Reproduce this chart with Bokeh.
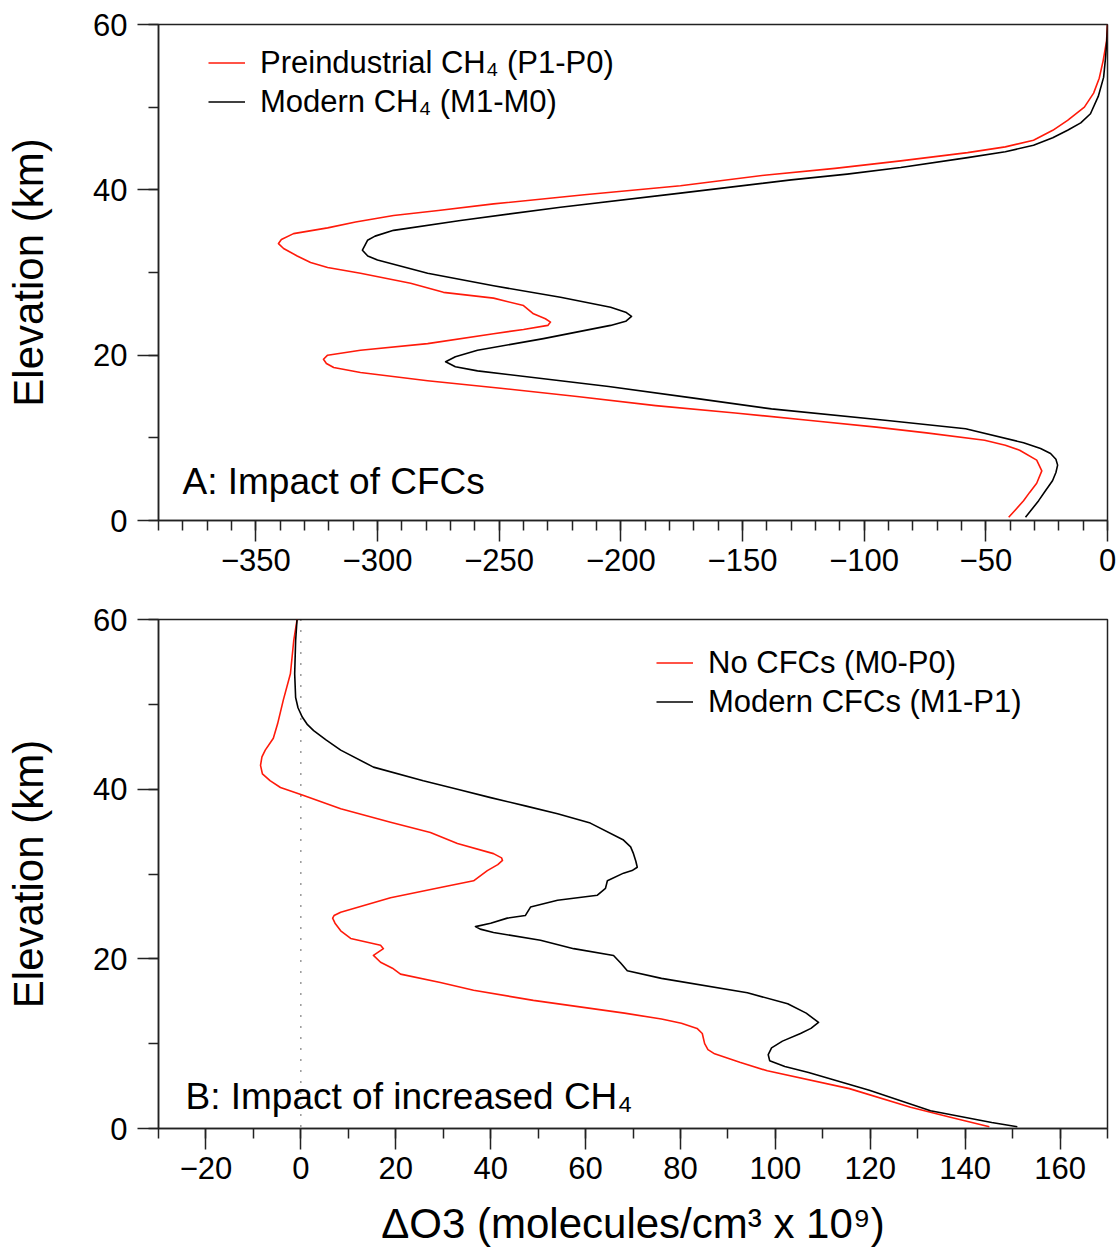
from bokeh.plotting import figure
from bokeh.layouts import column
from bokeh.models import (FixedTicker, CustomJSTickFormatter, Legend, LegendItem, Label, Span)
from bokeh.embed import file_html
from bokeh.resources import INLINE

FONT = "Liberation Sans"

# ---------------- Data ----------------
# Panel A: Impact of CFCs
a_red_elev = [60, 58, 55.6, 53.5, 51.7, 50.0, 48.4, 47.2, 46.0, 45.2, 44.5, 43.5, 42.6, 41.8, 40.5,
              39.4, 38.3, 37.5, 36.9, 36.1, 35.4, 34.7, 34.0, 33.5, 32.9, 32.0, 31.2, 30.6, 29.9,
              28.7, 27.6, 26.9, 26.0, 25.0, 24.4, 24.0, 23.6, 23.1, 22.6, 21.4, 20.6, 20.0, 19.5,
              19.0, 18.5, 17.9, 16.9, 16.0, 15.0, 13.9, 13.0, 12.1, 11.3, 10.6, 9.7, 9.1, 8.5,
              7.3, 6.0, 4.5, 3.4, 2.4, 1.4, 0.4]
a_red_val = [0, -0.4, -1.8, -3.4, -5.7, -9.5, -16.4, -22.5, -30.4, -42, -57.5, -85, -112, -140,
             -175.5, -215, -252.3, -275, -293.4, -309, -320.5, -334.5, -339.5, -340.7, -338.6,
             -333, -327.5, -320.5, -307, -286.4, -272.9, -252.3, -240, -235.9, -231, -228.9, -230,
             -240, -252.3, -279.4, -307, -320.5, -322.2, -321, -318, -307, -279.4, -249.4, -218,
             -185.7, -153, -122, -95, -74.4, -50.5, -42, -36.1, -29.1, -27, -29.1, -32, -34.5,
             -37.5, -40.6]

a_blk_elev = [60, 58, 56, 53.6, 51.3, 49.2, 48.1, 47.2, 46.3, 45.4, 44.6, 43.9, 42.7, 41.9, 41.2,
              39.6, 37.9, 36.3, 35.1, 34.4, 33.9, 32.7, 32.0, 31.5, 29.9, 28.4, 27.0, 25.8, 25.2,
              24.7, 24.1, 23.6, 22.0, 20.6, 19.8, 19.2, 18.6, 18.1, 16.9, 16.2, 14.8, 13.5, 12.1,
              11.1, 9.4, 8.7, 8.1, 7.4, 6.7, 5.8, 4.8, 3.6, 2.4, 1.4, 0.4]
a_blk_val = [0, -0.3, -0.8, -1.6, -3.8, -7, -11, -16.4, -22.5, -30.4, -42, -57.5, -85, -107, -130,
             -175.5, -224.8, -265.9, -293.4, -301, -304.1, -306.2, -304, -300, -279.4, -252.3,
             -224.8, -204.2, -198, -195.6, -198, -204.2, -231.8, -258.9, -268, -272, -268, -258.9,
             -224.8, -205, -170, -138.1, -90.4, -58.3, -34.5, -27.5, -23.4, -21.2, -20.5, -21.2,
             -22.6, -25.5, -28.3, -31, -33.7]

# Panel B: Impact of increased CH4
b_red_elev = [60, 57.5, 53.6, 50.5, 47.7, 46.0, 44.6, 43.8, 42.8, 41.8, 41.0, 40.2, 39.3, 37.7,
              36.1, 34.9, 33.6, 32.4, 31.9, 31.6, 31.1, 30.4, 29.2, 28.4, 27.2, 25.5, 25.1, 24.8,
              24.2, 23.3, 22.4, 21.6, 21.2, 20.4, 19.6, 18.9, 18.2, 17.2, 16.3, 15.1, 13.6, 12.9,
              12.4, 11.8, 11.2, 10.0, 9.3, 8.8, 7.8, 6.8, 4.7, 2.5, 1.3, 0.2]
b_red_val = [-0.8, -1.5, -2.2, -3.7, -4.9, -5.8, -7.5, -8.2, -8.5, -8.1, -6.5, -4.3, 0.3, 8.4, 18.9,
             27.3, 33, 40.6, 42.3, 42.5, 41.5, 39.3, 36.4, 29.4, 18.9, 8.4, 7, 6.7, 7.2, 8.4, 10.5,
             16.8, 17.4, 15.3, 16.8, 19.3, 21, 29.4, 36.4, 49, 68.2, 76, 80.2, 83.5, 84.6, 85.1,
             85.8, 87.2, 92.5, 98.3, 115.6, 128.5, 137.1, 145.1]

b_blk_elev = [60, 57.5, 53.6, 50.8, 49.6, 48.5, 47.6, 46.9, 45.8, 44.6, 42.6, 41.0, 40.0, 39.0,
              38.0, 37.1, 36.0, 34.0, 33.2, 32.4, 31.5, 30.8, 30.4, 30.1, 29.2, 28.3, 27.5, 26.9,
              26.1, 25.1, 24.8, 24.2, 23.8, 23.5, 23.1, 22.2, 21.2, 20.4, 19.5, 18.6, 17.7, 16.0,
              14.7, 13.6, 12.5, 11.8, 11.2, 10.3, 9.5, 8.7, 8.0, 7.3, 6.6, 4.5, 2.1, 0.7, 0.2]
b_blk_val = [-0.8, -1.1, -1.3, -1.1, -0.6, 0.3, 1.4, 2.7, 5.3, 8.4, 15.3, 25.8, 33, 40, 47.5, 54.1,
             61, 68, 69.5, 70.1, 70.6, 70.9, 69.8, 68, 64.6, 64.2, 62.5, 54.1, 48.4, 47.3, 43.5,
             40, 36.8, 37.8, 40.6, 50.5, 57.5, 65.9, 67.4, 68.8, 76, 94.1, 102.6, 106.5, 109.1,
             107.5, 105.3, 101.5, 99.2, 98.5, 98.8, 102, 107, 119.8, 132.7, 145.6, 151]

a_xticks = [-350, -300, -250, -200, -150, -100, -50, 0]
a_xminor = list(range(-390, 1, 10))
b_xticks = [-20, 0, 20, 40, 60, 80, 100, 120, 140, 160]
b_xminor = list(range(-30, 171, 10))
y_ticks = [0, 20, 40, 60]
y_minor = [0, 10, 20, 30, 40, 50, 60]

a_labels = ["Preindustrial CH\u2084 (P1-P0)", "Modern CH\u2084 (M1-M0)"]
b_labels = ["No CFCs (M0-P0)", "Modern CFCs (M1-P1)"]

RED = "#ff1a0a"
BLK = "#000000"

minus_fmt = "return tick < 0 ? '\\u2212' + Math.abs(tick) : '' + tick;"


def style(p, xt, xm):
    p.xgrid.visible = False
    p.ygrid.visible = False
    p.outline_line_color = "#222222"
    p.outline_line_width = 1.5
    p.background_fill_color = "white"
    p.border_fill_color = "white"
    for ax in (p.xaxis[0], p.yaxis[0]):
        ax.axis_line_color = "#222222"
        ax.axis_line_width = 1.5
        ax.major_tick_line_color = "#222222"
        ax.minor_tick_line_color = "#222222"
        ax.major_tick_line_width = 1.5
        ax.minor_tick_line_width = 1.5
        ax.major_tick_in = 0
        ax.minor_tick_in = 0
        ax.major_tick_out = 21
        ax.minor_tick_out = 10
        ax.major_label_text_font = FONT
        ax.major_label_text_font_size = "31px"
        ax.major_label_text_color = "black"
        ax.axis_label_text_font = FONT
        ax.axis_label_text_font_size = "42px"
        ax.axis_label_text_font_style = "normal"
        ax.axis_label_text_color = "black"
        ax.formatter = CustomJSTickFormatter(code=minus_fmt)
    p.xaxis[0].ticker = FixedTicker(ticks=xt, minor_ticks=xm)
    p.yaxis[0].ticker = FixedTicker(ticks=y_ticks, minor_ticks=y_minor)
    p.xaxis[0].major_label_standoff = 7
    p.yaxis[0].major_label_standoff = 10
    p.yaxis[0].axis_label = "Elevation (km)"
    p.yaxis[0].axis_label_standoff = 38


def make_legend(items, loc):
    lg = Legend(items=items, location=loc, border_line_color=None, background_fill_alpha=0,
                label_text_font=FONT, label_text_font_size="31px", label_text_color="black",
                glyph_width=37, glyph_height=39, label_height=39, label_standoff=15,
                padding=0, margin=0, spacing=0)
    return lg


# ---------------- Panel A ----------------
pa = figure(frame_width=949, frame_height=496, x_range=(-390, 0), y_range=(0, 60),
            output_backend="svg", toolbar_location=None,
            min_border_left=158, min_border_right=11, min_border_top=24, min_border_bottom=75)
style(pa, a_xticks, a_xminor)
ra1 = pa.line(a_red_val, a_red_elev, line_color=RED, line_width=1.6, line_join="round")
ra2 = pa.line(a_blk_val, a_blk_elev, line_color=BLK, line_width=1.6, line_join="round")
pa.add_layout(make_legend([LegendItem(label=a_labels[0], renderers=[ra1]),
                           LegendItem(label=a_labels[1], renderers=[ra2])], (50, 399)))
pa.add_layout(Label(x=24, y=39, x_units="screen", y_units="screen", text="A: Impact of CFCs",
                    text_font=FONT, text_font_size="37px", text_color="black",
                    text_baseline="alphabetic"))

# ---------------- Panel B ----------------
pb = figure(frame_width=949, frame_height=509, x_range=(-30, 170), y_range=(0, 60),
            output_backend="svg", toolbar_location=None,
            min_border_left=158, min_border_right=11, min_border_top=24, min_border_bottom=115)
style(pb, b_xticks, b_xminor)
pb.xaxis[0].axis_label = "\u0394O3 (molecules/cm\u00b3 x 10\u2079)"
pb.xaxis[0].axis_label_standoff = 18
pb.add_layout(Span(location=0, dimension="height", line_color="black", line_width=1.2,
                   line_dash="1 10"))
rb1 = pb.line(b_red_val, b_red_elev, line_color=RED, line_width=1.6, line_join="round")
rb2 = pb.line(b_blk_val, b_blk_elev, line_color=BLK, line_width=1.6, line_join="round")
pb.add_layout(make_legend([LegendItem(label=b_labels[0], renderers=[rb1]),
                           LegendItem(label=b_labels[1], renderers=[rb2])], (498, 407)))
pb.add_layout(Label(x=27, y=32, x_units="screen", y_units="screen",
                    text="B: Impact of increased CH\u2084",
                    text_font=FONT, text_font_size="37px", text_color="black",
                    text_baseline="alphabetic"))

layout = column(pa, pb, spacing=0)
with open("out.html", "w", encoding="utf-8") as f:
    f.write(file_html(layout, INLINE))
